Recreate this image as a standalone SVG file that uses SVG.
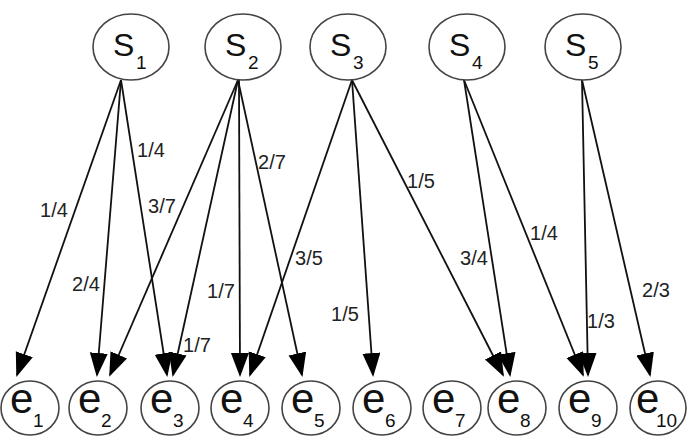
<svg xmlns="http://www.w3.org/2000/svg" width="687" height="448" viewBox="0 0 687 448">
<style>
.n ellipse{fill:#fff;stroke:#444;stroke-width:1.6}
.big{font-family:"Liberation Sans",Arial,sans-serif;fill:#111}
.sub{font-family:"Liberation Sans",Arial,sans-serif;font-size:19px;fill:#111}
.lbl{font-family:"Liberation Sans",Arial,sans-serif;font-size:20px;fill:#222;text-anchor:middle}
.e line{stroke:#111;stroke-width:1.8;marker-end:url(#ah)}
</style>
<defs>
<marker id="ah" markerUnits="userSpaceOnUse" markerWidth="28" markerHeight="20" refX="22" refY="9" orient="auto">
<path d="M0,0 L24,9 L0,18 z" fill="#000"/>
</marker>
</defs>
<g class="e" id="edges">
<line x1="121" y1="80" x2="17" y2="375"/>
<line x1="121" y1="80" x2="97" y2="375"/>
<line x1="121" y1="80" x2="167" y2="375"/>
<line x1="238" y1="80" x2="110" y2="375"/>
<line x1="238" y1="80" x2="173" y2="375"/>
<line x1="239" y1="80" x2="240" y2="375"/>
<line x1="238" y1="80" x2="302" y2="375"/>
<line x1="352" y1="80" x2="250" y2="375"/>
<line x1="352" y1="80" x2="373" y2="375"/>
<line x1="352" y1="80" x2="503" y2="375"/>
<line x1="464" y1="80" x2="510" y2="375"/>
<line x1="464" y1="80" x2="583" y2="375"/>
<line x1="582" y1="80" x2="588" y2="375"/>
<line x1="582" y1="80" x2="650" y2="375"/>
</g>
<g id="labels">
<text class="lbl" x="54" y="217">1/4</text>
<text class="lbl" x="86" y="291">2/4</text>
<text class="lbl" x="151" y="157">1/4</text>
<text class="lbl" x="162" y="213">3/7</text>
<text class="lbl" x="197" y="352">1/7</text>
<text class="lbl" x="221" y="298">1/7</text>
<text class="lbl" x="272" y="169">2/7</text>
<text class="lbl" x="309" y="265">3/5</text>
<text class="lbl" x="345" y="321">1/5</text>
<text class="lbl" x="421" y="188">1/5</text>
<text class="lbl" x="474" y="265">3/4</text>
<text class="lbl" x="544" y="240">1/4</text>
<text class="lbl" x="601" y="328">1/3</text>
<text class="lbl" x="656" y="297">2/3</text>
</g>
<g id="S1" class="n"><ellipse cx="131" cy="47" rx="38" ry="33"/><text class="big" font-size="32" x="113" y="56">S</text><text class="sub" x="136" y="69">1</text></g>
<g id="S2" class="n"><ellipse cx="243" cy="47" rx="38" ry="33"/><text class="big" font-size="32" x="225" y="56">S</text><text class="sub" x="248" y="69">2</text></g>
<g id="S3" class="n"><ellipse cx="348" cy="47" rx="38" ry="33"/><text class="big" font-size="32" x="330" y="56">S</text><text class="sub" x="353" y="69">3</text></g>
<g id="S4" class="n"><ellipse cx="467" cy="47" rx="38" ry="33"/><text class="big" font-size="32" x="449" y="56">S</text><text class="sub" x="472" y="69">4</text></g>
<g id="S5" class="n"><ellipse cx="583" cy="47" rx="38" ry="33"/><text class="big" font-size="32" x="565" y="56">S</text><text class="sub" x="588" y="69">5</text></g>
<g id="e1" class="n"><ellipse cx="30" cy="408" rx="29" ry="27"/><text class="big" font-size="42" x="10" y="413">e</text><text class="sub" x="33" y="427">1</text></g>
<g id="e2" class="n"><ellipse cx="98" cy="408" rx="29" ry="27"/><text class="big" font-size="42" x="78" y="413">e</text><text class="sub" x="101" y="427">2</text></g>
<g id="e3" class="n"><ellipse cx="170" cy="408" rx="29" ry="27"/><text class="big" font-size="42" x="150" y="413">e</text><text class="sub" x="173" y="427">3</text></g>
<g id="e4" class="n"><ellipse cx="240" cy="408" rx="29" ry="27"/><text class="big" font-size="42" x="220" y="413">e</text><text class="sub" x="243" y="427">4</text></g>
<g id="e5" class="n"><ellipse cx="311" cy="408" rx="29" ry="27"/><text class="big" font-size="42" x="291" y="413">e</text><text class="sub" x="314" y="427">5</text></g>
<g id="e6" class="n"><ellipse cx="382" cy="408" rx="29" ry="27"/><text class="big" font-size="42" x="362" y="413">e</text><text class="sub" x="385" y="427">6</text></g>
<g id="e7" class="n"><ellipse cx="452" cy="408" rx="29" ry="27"/><text class="big" font-size="42" x="432" y="413">e</text><text class="sub" x="455" y="427">7</text></g>
<g id="e8" class="n"><ellipse cx="517" cy="408" rx="29" ry="27"/><text class="big" font-size="42" x="497" y="413">e</text><text class="sub" x="520" y="427">8</text></g>
<g id="e9" class="n"><ellipse cx="588" cy="408" rx="29" ry="27"/><text class="big" font-size="42" x="568" y="413">e</text><text class="sub" x="591" y="427">9</text></g>
<g id="e10" class="n"><ellipse cx="658" cy="408" rx="28" ry="27"/><text class="big" font-size="42" x="636" y="413">e</text><text class="sub" x="656" y="427">10</text></g>
</svg>
